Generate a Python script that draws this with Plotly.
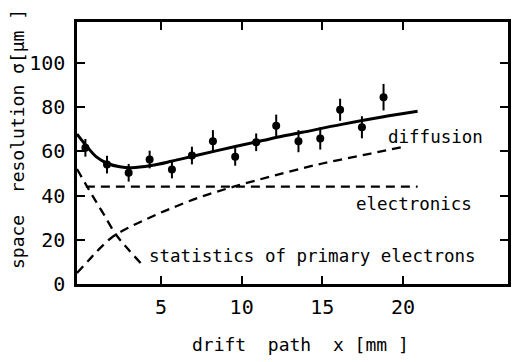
import plotly.graph_objects as go

# measured points
x_meas = [0.32, 1.66, 3.0, 4.3, 5.68, 6.92, 8.22, 9.6, 10.9, 12.14, 13.52, 14.87, 16.1, 17.45, 18.79]
y_meas = [61.6, 54.0, 50.3, 56.3, 51.8, 58.1, 64.6, 57.5, 64.1, 71.6, 64.6, 65.8, 78.8, 70.9, 84.5]
err_meas = [4, 4, 4, 4, 4, 4, 5, 4, 4, 5, 5, 5, 5, 5, 6]

# total (fit) curve
x_total = [-0.2, 0.4, 1.0, 1.7, 2.45, 3.2, 4.4, 5.65, 7.1, 9.6, 11.3, 12.5, 13.75, 16.2, 18.7, 20.9]
y_total = [67.8, 62.3, 57.5, 54.5, 53.0, 52.6, 53.6, 55.5, 58.0, 62.2, 64.9, 66.8, 68.6, 72.2, 75.5, 78.1]

# electronics contribution
x_elec = [0.35, 20.9]
y_elec = [44.0, 44.0]

# diffusion contribution
x_diff = [-0.2, 0.5, 1.2, 2.05, 3.0, 4.0, 5.0, 6.0, 7.5, 9.5, 12.0, 15.0, 18.0, 20.0]
y_diff = [5.0, 10.5, 16.0, 21.6, 25.5, 29.0, 32.3, 35.3, 39.5, 44.0, 49.0, 54.5, 59.0, 62.0]

# statistics of primary electrons
x_stat = [-0.2, 0.43, 1.0, 1.5, 2.2, 3.0, 3.8]
y_stat = [52.0, 44.0, 37.0, 31.0, 22.5, 15.5, 9.0]

x_ticks = [5, 10, 15, 20]
y_ticks = [0, 20, 40, 60, 80, 100]

FONT = "DejaVu Sans Mono"
fig = go.Figure()

dash = "9px,6px"
fig.add_trace(go.Scatter(x=x_elec, y=y_elec, mode="lines",
                         line=dict(color="black", width=2.3, dash=dash), hoverinfo="skip"))
fig.add_trace(go.Scatter(x=x_diff, y=y_diff, mode="lines", line_shape="spline",
                         line=dict(color="black", width=2.3, dash=dash), hoverinfo="skip"))
fig.add_trace(go.Scatter(x=x_stat, y=y_stat, mode="lines", line_shape="spline",
                         line=dict(color="black", width=2.3, dash=dash), hoverinfo="skip"))
fig.add_trace(go.Scatter(x=x_total, y=y_total, mode="lines", line_shape="spline",
                         line=dict(color="black", width=3), hoverinfo="skip"))
fig.add_trace(go.Scatter(x=x_meas, y=y_meas, mode="markers",
                         marker=dict(color="black", size=8, symbol="circle"),
                         error_y=dict(type="data", array=err_meas, color="black",
                                      thickness=2, width=0)))

axis_common = dict(showgrid=False, zeroline=False, showline=True, linecolor="black",
                   linewidth=2.5, mirror="allticks", ticks="inside", ticklen=8,
                   tickwidth=2.2, tickcolor="black", automargin=False,
                   tickfont=dict(family=FONT, size=20, color="black"))
fig.update_xaxes(range=[-0.2, 26.5], tickvals=x_ticks, ticklabelstandoff=3, **axis_common)
fig.update_yaxes(range=[0, 118.5], tickvals=y_ticks, ticklabelstandoff=5, **axis_common)

# axis titles
fig.add_annotation(xref="paper", yref="paper", x=0.5, y=0, yshift=-60, xshift=8,
                   xanchor="center", yanchor="middle",
                   text="drift\u00a0\u00a0path\u00a0\u00a0x\u00a0[mm\u00a0]", showarrow=False,
                   font=dict(family=FONT, size=18, color="black"))
fig.add_annotation(xref="paper", yref="paper", x=0, y=0.5, xshift=-60, yshift=14,
                   xanchor="center", yanchor="middle",
                   text="space\u00a0\u00a0resolution\u00a0σ[μm\u00a0]", showarrow=False,
                   textangle=-90, font=dict(family=FONT, size=18, color="black"))

for txt, xx, yy in [("diffusion", 22.0, 66.7), ("electronics", 20.7, 36.0),
                    ("statistics of primary electrons", 14.4, 12.6)]:
    fig.add_annotation(x=xx, y=yy, text=txt, showarrow=False,
                       font=dict(family=FONT, size=17.5, color="black"))

fig.update_layout(width=516, height=362, margin=dict(l=77, r=8, t=22, b=78),
                  plot_bgcolor="white", paper_bgcolor="white", showlegend=False)
fig.write_html("out.html", config={"displayModeBar": False},
               post_script="document.body.style.margin='0';")
